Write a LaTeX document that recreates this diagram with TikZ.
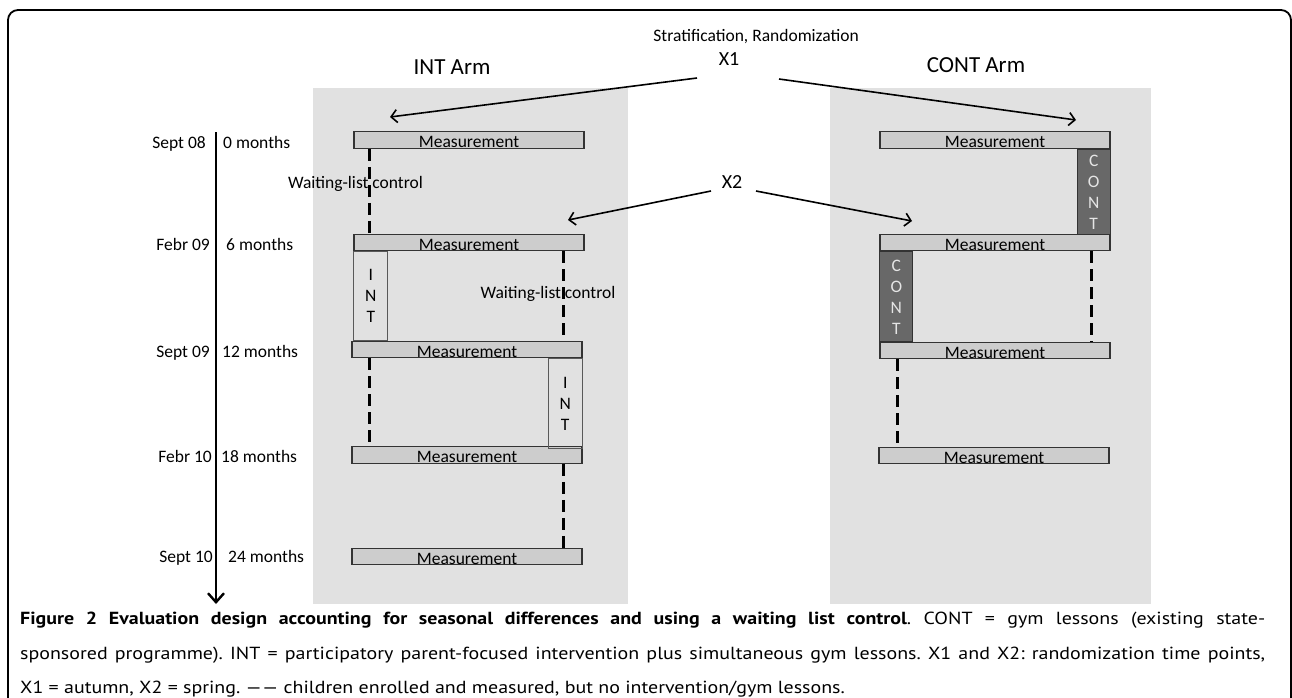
\documentclass[tikz,border=0pt]{standalone}
\usepackage{fontspec}
\setmainfont{Carlito}
\newfontfamily\capfont[FakeStretch=1.14]{PT Sans}
\usetikzlibrary{arrows.meta,positioning}

\definecolor{panelgray}{HTML}{E1E1E1}
\definecolor{measgray}{HTML}{CDCDCD}
\definecolor{contgray}{HTML}{686868}

\begin{document}
\begin{tikzpicture}[x=1pt, y=-1pt,
    every node/.style={inner sep=0pt, font=\fontsize{17.5}{21}\selectfont},
    measbox/.style={draw=black!80, fill=measgray, line width=1.3pt,
      minimum width=230pt, minimum height=16.5pt, text height=16pt, text depth=0.5pt},
    intbox/.style={draw=black!65, line width=0.9pt, minimum width=34pt, align=center},
    contbox/.style={draw=black!80, fill=contgray, text=white!90!black, line width=1pt,
      minimum width=33pt, align=center},
    waitline/.style={line width=2.6pt, dash pattern=on 12pt off 6pt},
    randarrow/.style={line width=1.6pt, -{Straight Barb[length=6pt,width=13pt,line width=1.6pt]}},
    timeline/.style={line width=1.3pt, -{Straight Barb[length=9pt,width=16pt,line width=2.4pt]}},
  ]
    \useasboundingbox (0,0) rectangle (1292,697);
    \draw[line width=1.8pt, rounded corners=10pt] (8,10) rectangle (1291,760);

    % the two arms
    \fill[panelgray] (313,88) rectangle (628,604);
    \fill[panelgray] (830,88) rectangle (1151,604);
    \node[font=\fontsize{23}{27}\selectfont, anchor=base] (intarm) at (452,74) {INT Arm};
    \node[font=\fontsize{23}{27}\selectfont, anchor=base] (contarm) at (976,72) {CONT Arm};

    \node[anchor=base east] (strat) at (859,41) {Stratification, Randomization};
    \node[font=\fontsize{20}{24}\selectfont, anchor=base] (xone) at (729,65) {X1};
    \node[font=\fontsize{20}{24}\selectfont, anchor=base] (xtwo) at (732,188) {X2};

    % time axis
    \coordinate (ttop) at (216,132);
    \coordinate (tbot) at (216,604);
    \draw[timeline] (ttop) -- (tbot);
    \node[anchor=base east] (d0) at (206,148) {Sept 08};
    \node[anchor=base west] (t0) at (223,148) {0 months};
    \node[anchor=base east] (d6) at (210,250) {Febr 09};
    \node[anchor=base west] (t6) at (226,250) {6 months};
    \node[anchor=base east] (d12) at (210,357) {Sept 09};
    \node[anchor=base west] (t12) at (222,357) {12 months};
    \node[anchor=base east] (d18) at (212,462) {Febr 10};
    \node[anchor=base west] (t18) at (221,462) {18 months};
    \node[anchor=base east] (d24) at (213,562) {Sept 10};
    \node[anchor=base west] (t24) at (228,562) {24 months};

    % INT arm
    \node[measbox] (m1) at (469,140) {Measurement};
    \node[measbox] (m2) at (469,242.5) {Measurement};
    \node[measbox] (m3) at (467,349.5) {Measurement};
    \node[measbox] (m4) at (467,455) {Measurement};
    \node[measbox] (m5) at (467,556.5) {Measurement};
    \node[intbox, minimum height=89pt, anchor=north west] (int1) at (m2.south west) {I\\N\\T};
    \node[intbox, minimum height=90pt, anchor=north east] (int2) at (m3.south east) {I\\N\\T};

    \draw[waitline] ([xshift=16pt]m1.south west) -- ([xshift=16pt]m2.north west);
    \draw[waitline] ([xshift=-21pt]m2.south east) -- ([xshift=-19pt]m3.north east);
    \draw[waitline] ([xshift=18pt]m3.south west) -- ([xshift=18pt]m4.north west);
    \draw[waitline] ([xshift=-19pt]m4.south east) -- ([xshift=-19pt]m5.north east);
    \node[anchor=base] (wl1) at (355.5,188) {Waiting-list control};
    \node[anchor=base] (wl2) at (548,298) {Waiting-list control};

    % CONT arm
    \node[measbox] (r1) at (995,140) {Measurement};
    \node[measbox] (r2) at (995,242.5) {Measurement};
    \node[measbox] (r3) at (995,350.5) {Measurement};
    \node[measbox] (r4) at (994,455.5) {Measurement};
    \node[contbox, minimum height=85pt, anchor=north east] (cont1) at (r1.south east) {C\\O\\N\\T};
    \node[contbox, minimum height=90pt, anchor=north west] (cont2) at (r2.south west) {C\\O\\N\\T};

    \draw[waitline] ([xshift=-19pt]r2.south east) -- ([xshift=-19pt]r3.north east);
    \draw[waitline] ([xshift=18pt]r3.south west) -- ([xshift=19pt]r4.north west);

    % randomization arrows
    \coordinate (x1w) at (697,78);
    \coordinate (x1e) at (779,79);
    \coordinate (x2w) at (711,191);
    \coordinate (x2e) at (756,191);
    \coordinate (in1) at (390,117);
    \coordinate (co1) at (1076,120);
    \coordinate (in2) at (568,220);
    \coordinate (co2) at (912,221);
    \draw[randarrow] (x1w) -- (in1);
    \draw[randarrow] (x1e) -- (co1);
    \draw[randarrow] (x2w) -- (in2);
    \draw[randarrow] (x2e) -- (co2);

    % caption
    \node[anchor=north west, text width=1245pt, align=justify,
      font=\capfont\fontsize{17.5}{34.5}\selectfont\frenchspacing] (caption) at (20,612)
      {\textbf{Figure 2 Evaluation design accounting for seasonal differences and using a waiting list control}. CONT = gym lessons (existing state-\linebreak sponsored programme). INT = participatory parent-focused intervention plus simultaneous gym lessons. X1 and X2: randomization time points,\linebreak X1 = autumn, X2 = spring. —— children enrolled and measured, but no intervention/gym lessons.};
\end{tikzpicture}
\end{document}
